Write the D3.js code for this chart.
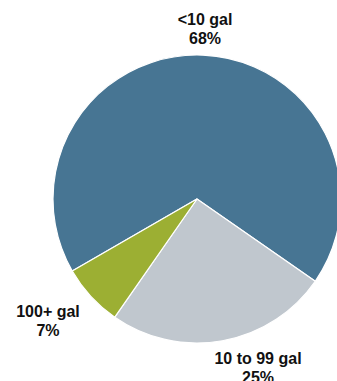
<!DOCTYPE html>
<html><head><meta charset="utf-8">
<script src="https://cdn.jsdelivr.net/npm/d3@7"></script>
<style>html,body{margin:0;padding:0;background:#fff;overflow:hidden}</style>
</head><body><svg id="c" width="337" height="381"></svg>
<script>
const categories = ["<10 gal", "10 to 99 gal", "100+ gal"];
const values = [68, 25, 7];
const colors = ["#477593", "#c0c7ce", "#9caf33"];
const labelPos = [[205, 25], [258, 364], [48, 317]];

const svg = d3.select("#c");
const cx = 197, cy = 199, r = 144;
const pie = d3.pie().sort(null).startAngle(-2.094).endAngle(-2.094 + 2*Math.PI);
const arcs = pie(values);
const arc = d3.arc().innerRadius(0).outerRadius(r);
const g = svg.append("g").attr("transform", `translate(${cx},${cy})`);
g.selectAll("path").data(arcs).enter().append("path")
  .attr("d", arc).attr("fill", (d,i)=>colors[i])
  .attr("stroke", "#fff").attr("stroke-width", 1.2);

const t = svg.selectAll("text.lab").data(categories).enter().append("text")
  .attr("class","lab")
  .attr("text-anchor","middle")
  .attr("font-family","Liberation Sans, Arial, sans-serif")
  .attr("font-weight","bold").attr("font-size", 16).attr("fill","#111");
t.append("tspan").attr("x",(d,i)=>labelPos[i][0]).attr("y",(d,i)=>labelPos[i][1]).text(d=>d);
t.append("tspan").attr("x",(d,i)=>labelPos[i][0]).attr("dy",19).text((d,i)=>values[i]+"%");
</script></body></html>
